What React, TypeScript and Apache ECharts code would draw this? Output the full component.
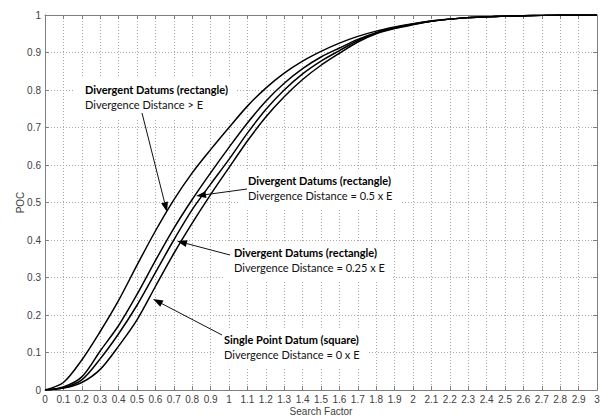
import React, { useEffect, useRef } from "react";
import * as echarts from "echarts";

// Search factor (x) sample points
const searchFactor = [
  0, 0.1, 0.2, 0.3, 0.4, 0.5, 0.6, 0.7, 0.8, 0.9, 1.0, 1.1, 1.2, 1.3, 1.4, 1.5,
  1.6, 1.7, 1.8, 1.9, 2.0, 2.1, 2.2, 2.3, 2.4, 2.5, 2.6, 2.7, 2.8, 2.9, 3.0,
];

// POC values
const pocDivergentGreater = [
  0, 0.02, 0.08, 0.156, 0.239, 0.333, 0.424, 0.507, 0.579, 0.641, 0.7, 0.757,
  0.805, 0.845, 0.877, 0.903, 0.925, 0.943, 0.957, 0.968, 0.977, 0.984, 0.989,
  0.993, 0.995, 0.997, 0.998, 0.999, 1, 1, 1,
];
const pocDivergentHalf = [
  0, 0.008, 0.035, 0.104, 0.172, 0.255, 0.345, 0.431, 0.508, 0.579, 0.647,
  0.712, 0.77, 0.818, 0.857, 0.888, 0.912, 0.935, 0.953, 0.966, 0.976, 0.984,
  0.989, 0.993, 0.995, 0.997, 0.998, 0.999, 1, 1, 1,
];
const pocDivergentQuarter = [
  0, 0.006, 0.027, 0.083, 0.15, 0.226, 0.313, 0.4, 0.481, 0.549, 0.615, 0.685,
  0.748, 0.8, 0.843, 0.877, 0.905, 0.932, 0.952, 0.965, 0.975, 0.983, 0.989,
  0.993, 0.995, 0.997, 0.998, 0.999, 1, 1, 1,
];
const pocSinglePoint = [
  0, 0.005, 0.02, 0.055, 0.117, 0.187, 0.276, 0.364, 0.445, 0.521, 0.593,
  0.664, 0.728, 0.782, 0.828, 0.866, 0.898, 0.928, 0.95, 0.964, 0.974, 0.983,
  0.989, 0.993, 0.995, 0.997, 0.998, 0.999, 1, 1, 1,
];

const seriesNames = [
  "Divergence Distance > E",
  "Divergence Distance = 0.5 x E",
  "Divergence Distance = 0.25 x E",
  "Divergence Distance = 0 x E",
];

const annotationTitles = [
  "Divergent Datums (rectangle)",
  "Divergent Datums (rectangle)",
  "Divergent Datums (rectangle)",
  "Single Point Datum (square)",
];
const annotationSubtitles = [
  "Divergence Distance > E",
  "Divergence Distance = 0.5 x E",
  "Divergence Distance = 0.25 x E",
  "Divergence Distance = 0 x E",
];

const xAxisTitle = "Search Factor";
const yAxisTitle = "POC";

const AXIS_FONT = "'Liberation Sans', Arial, sans-serif";
const NOTE_FONT = "Lato, 'Open Sans', sans-serif";

function arrow(x1: number, y1: number, x2: number, y2: number) {
  const dx = x2 - x1;
  const dy = y2 - y1;
  const len = Math.hypot(dx, dy);
  const ux = dx / len;
  const uy = dy / len;
  const hl = 10;
  const hw = 3.5;
  const bx = x2 - ux * hl;
  const by = y2 - uy * hl;
  return [
    {
      type: "line",
      z: 100,
      shape: { x1, y1, x2: bx, y2: by },
      style: { stroke: "#111", lineWidth: 1 },
    },
    {
      type: "polygon",
      z: 100,
      shape: {
        points: [
          [x2, y2],
          [bx - uy * hw, by + ux * hw],
          [bx + uy * hw, by - ux * hw],
        ],
      },
      style: { fill: "#000" },
    },
  ];
}

export default function App() {
  const ref = useRef<HTMLDivElement>(null);

  useEffect(() => {
    if (!ref.current) return;
    const chart = echarts.init(ref.current, null, { renderer: "svg" });

    const fmt = (v: number) => String(Math.round(v * 10) / 10);
    const boxColor = "#7f7f7f";
    const labelColor = "#404040";

    const baseAxis = {
      type: "value" as const,
      axisLine: { show: true, onZero: false, lineStyle: { color: boxColor, width: 1 } },
      axisTick: { show: true, inside: true, length: 4, lineStyle: { color: boxColor } },
    };

    const curves = [
      pocDivergentGreater,
      pocDivergentHalf,
      pocDivergentQuarter,
      pocSinglePoint,
    ];

    const notePos = [
      [75, 78],
      [238, 169],
      [224, 241],
      [214, 328],
    ];

    const notes = annotationTitles.map((t, i) => ({
      type: "text",
      z: 1,
      x: notePos[i][0],
      y: notePos[i][1],
      style: {
        text: `{b|${t}}\n{n|${annotationSubtitles[i]}}`,
        backgroundColor: "#fff",
        padding: [4, 8, 6, 10],
        rich: {
          b: {
            fontFamily: NOTE_FONT,
            fontWeight: "bold",
            fontSize: 11,
            lineHeight: 15,
            fill: "#000",
          },
          n: {
            fontFamily: NOTE_FONT,
            fontSize: 11,
            lineHeight: 15,
            fill: "#111",
          },
        },
      },
    }));

    const arrows = [
      ...arrow(142, 113, 167, 212),
      ...arrow(247, 189, 196, 196),
      ...arrow(230, 255, 177, 241),
      ...arrow(222, 335, 153, 299),
    ];

    chart.setOption({
      animation: false,
      grid: {
        left: 45,
        right: 4,
        top: 15,
        bottom: 26,
        containLabel: false,
        outerBoundsMode: "none",
      },
      xAxis: [
        {
          ...baseAxis,
          position: "bottom",
          min: 0,
          max: 3,
          interval: 0.1,
          name: xAxisTitle,
          nameLocation: "middle",
          nameGap: 16,
          nameMoveOverlap: false,
          nameTextStyle: { fontFamily: AXIS_FONT, fontSize: 10, color: labelColor },
          axisLabel: {
            fontFamily: AXIS_FONT,
            fontSize: 10,
            color: labelColor,
            margin: 4,
            formatter: fmt,
          },
          splitLine: {
            show: true,
            lineStyle: { color: "#a8a8a8", type: [1, 2], width: 1 },
          },
        },
        {
          ...baseAxis,
          position: "top",
          min: 0,
          max: 3,
          interval: 0.1,
          axisLabel: { show: false },
          splitLine: { show: false },
        },
      ],
      yAxis: [
        {
          ...baseAxis,
          position: "left",
          min: 0,
          max: 1,
          interval: 0.1,
          name: yAxisTitle,
          nameLocation: "middle",
          nameGap: 20,
          nameMoveOverlap: false,
          nameRotate: 90,
          nameTextStyle: { fontFamily: AXIS_FONT, fontSize: 10, color: labelColor },
          axisLabel: {
            fontFamily: AXIS_FONT,
            fontSize: 10,
            color: labelColor,
            margin: 4,
            formatter: fmt,
          },
          splitLine: {
            show: true,
            lineStyle: { color: "#a8a8a8", type: [1, 2], width: 1 },
          },
        },
        {
          ...baseAxis,
          position: "right",
          min: 0,
          max: 1,
          interval: 0.1,
          axisLabel: { show: false },
          splitLine: { show: false },
        },
      ],
      series: curves.map((arr, i) => ({
        type: "line",
        name: seriesNames[i],
        xAxisIndex: 0,
        yAxisIndex: 0,
        data: searchFactor.map((x, j) => [x, arr[j]]),
        smooth: 0.3,
        showSymbol: false,
        symbol: "none",
        lineStyle: { color: "#000", width: 1.5 },
        z: 10,
      })),
      graphic: [...notes, ...arrows],
    });

    return () => chart.dispose();
  }, []);

  return (
    <div
      ref={ref}
      style={{ position: "absolute", left: 0, top: 0, width: 601, height: 416 }}
    />
  );
}
